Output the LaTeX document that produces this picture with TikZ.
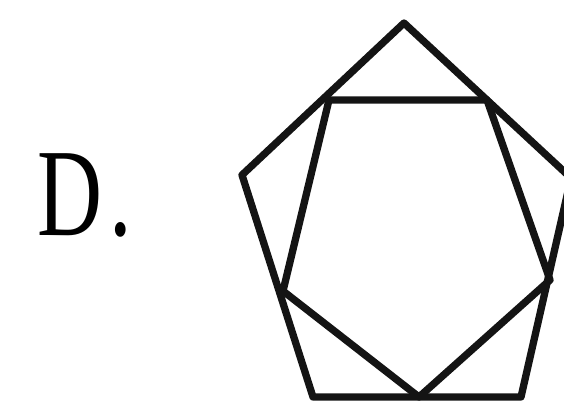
\documentclass[tikz,border=0pt]{standalone}
\usepackage{fontspec}
\setmainfont{Liberation Serif}
\begin{document}
\begin{tikzpicture}[x=1pt,y=-1pt,
  edge/.style={line width=7.3pt,line join=round,line cap=round,black!92},
  label/.style={inner sep=0pt,anchor=base west,xscale=0.72,font=\fontsize{125}{125}\selectfont}]
\useasboundingbox (0,0) rectangle (564,404);
% outer pentagon
\coordinate (T) at (404,23);
\coordinate (R) at (571,178);
\coordinate (BR) at (521,397);
\coordinate (BL) at (313,397);
\coordinate (L) at (242,175);
% inner polygon
\coordinate (a) at (329,100);
\coordinate (b) at (487,100);
\coordinate (c) at (550,280);
\coordinate (d) at (419,397);
\coordinate (e) at (283,291);
\begin{scope}
\clip (0,0) rectangle (564,404);
\draw[edge] (T) -- (R) -- (BR) -- (BL) -- (L) -- cycle;
\draw[edge] (a) -- (b) -- (c) -- (d) -- (e) -- cycle;
\end{scope}
\node[label] (lab) at (37,235) {D\kern10pt.};
\end{tikzpicture}
\end{document}
